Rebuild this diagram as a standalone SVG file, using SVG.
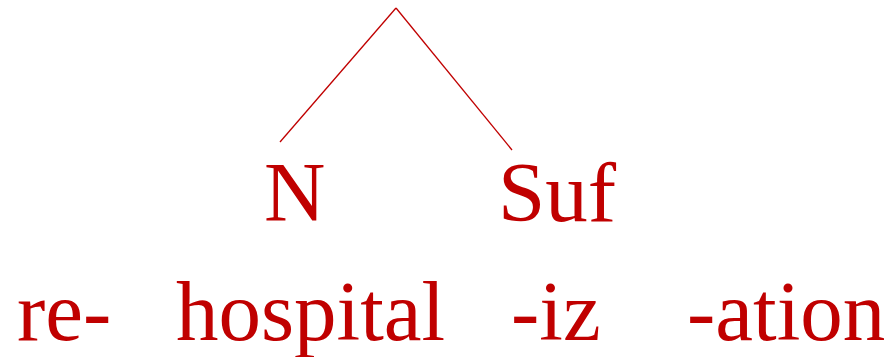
<svg xmlns="http://www.w3.org/2000/svg" width="892" height="357" viewBox="0 0 892 357">
<style>
text{font-family:"Liberation Serif","Times New Roman",serif;font-size:85px;fill:#c00000}
.e{stroke:#c00000;stroke-width:1.3;fill:none}
</style>
<rect width="892" height="357" fill="#fff"/>
<g id="connectors">
<line class="e" x1="396" y1="8" x2="280" y2="142"/>
<line class="e" x1="396" y1="8" x2="512" y2="150"/>
</g>
<g id="n-N"><text x="264" y="221">N</text></g>
<g id="n-Suf"><text x="498" y="221">Suf</text></g>
<g id="w-re"><text x="17" y="340">re-</text></g>
<g id="w-hospital"><text x="176" y="340">hospital</text></g>
<g id="w-iz"><text x="511" y="340">-iz</text></g>
<g id="w-ation"><text x="687" y="340">-ation</text></g>
</svg>
